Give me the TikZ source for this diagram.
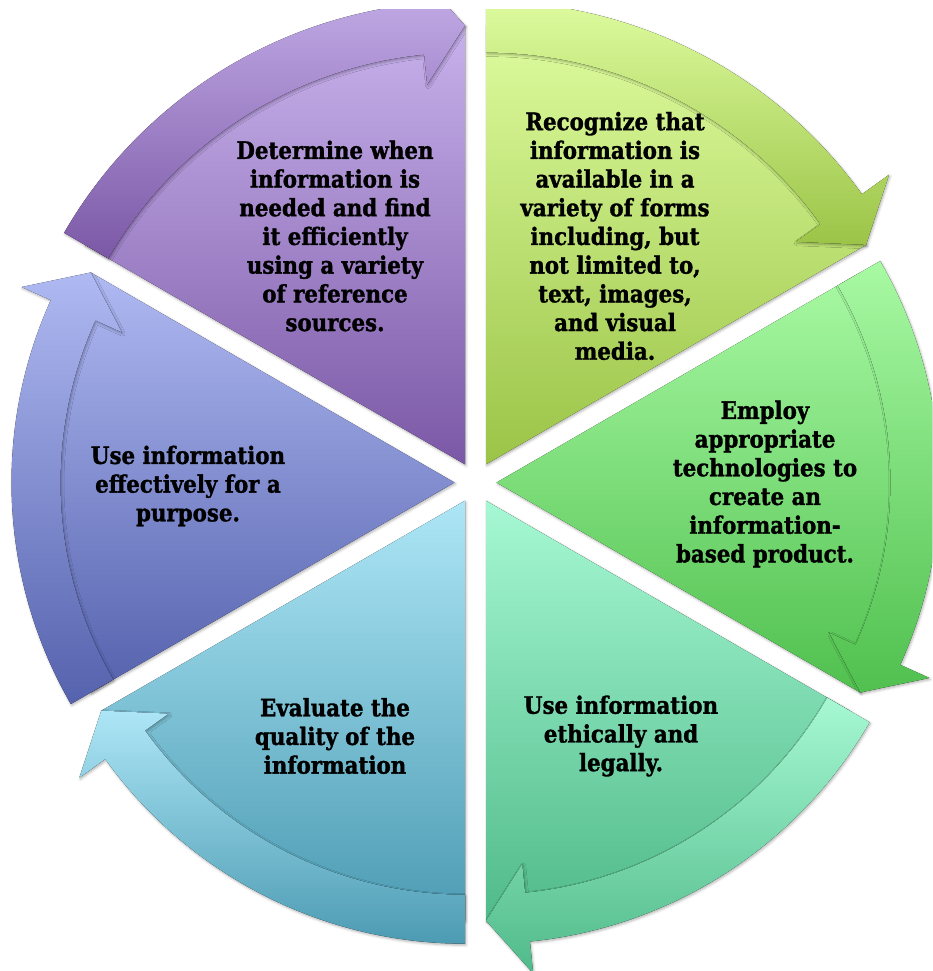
\documentclass[tikz,border=0pt]{standalone}
\usepackage{fontspec}
\newfontfamily\lblfont[FakeStretch=0.89, BoldFeatures={FakeBold=1.3}]{DejaVu Serif}
\usetikzlibrary{shadows.blur}

% segment colours: light (top) and dark (bottom) ends of each vertical gradient
\definecolor{purpleL}{HTML}{C7B1EB}\definecolor{purpleD}{HTML}{7B58A6}
\definecolor{limeL}{HTML}{DDFB9E}\definecolor{limeD}{HTML}{9BC447}
\definecolor{greenL}{HTML}{A8F9A3}\definecolor{greenD}{HTML}{50C04F}
\definecolor{mintL}{HTML}{A6F8D3}\definecolor{mintD}{HTML}{50BA8A}
\definecolor{skyL}{HTML}{ADE6F6}\definecolor{skyD}{HTML}{4C9BB3}
\definecolor{violetL}{HTML}{AFB9F2}\definecolor{violetD}{HTML}{5562AD}

\tikzset{
  seglabel/.style={align=center, text=black, inner sep=0pt,
    font=\lblfont\bfseries\fontsize{24}{28.7}\selectfont},
  segshadow/.style={blur shadow={shadow xshift=1pt, shadow yshift=-1.5pt,
    shadow blur radius=2.5pt, shadow opacity=30}},
}

% one segment: #1 bisector angle, #2 start angle, #3 end angle (clockwise),
% #4 size factor, #5 light colour, #6 dark colour
\newcommand{\cyclesegment}[6]{%
  \begin{scope}[shift={(#1:21)}, scale=#4]
    % pie-shaped body
    \fill[top color=#5, bottom color=#6, segshadow]
      (0,0) -- (#2:420) arc[start angle=#2, end angle=#3, radius=420] -- cycle;
    % curved arrow along the rim
    \fill[top color=#5, bottom color=#6, segshadow]
      (#2:443) arc[start angle=#2, end angle=#3+5.7, radius=443]
      -- (#3+5.7:475) -- (#3:420) -- (#3+5.7:365) -- (#3+5.7:394)
      arc[start angle=#3+5.7, end angle=#2, radius=394] -- cycle;
  \end{scope}
}

\begin{document}
\begin{tikzpicture}[x=1pt, y=1pt]
  \useasboundingbox (-475.5,-488.5) rectangle (456.5,482.5);
  \begin{scope}
    \clip (-475.5,-488.5) rectangle (456.5,472.5);
    \cyclesegment{120}{150}{90}{1.045}{purpleL}{purpleD}
    \cyclesegment{60}{90}{30}{1.045}{limeL}{limeD}
    \cyclesegment{0}{30}{-30}{1}{greenL}{greenD}
    \cyclesegment{-60}{-30}{-90}{1}{mintL}{mintD}
    \cyclesegment{-120}{-90}{-150}{1}{skyL}{skyD}
    \cyclesegment{180}{210}{150}{1}{violetL}{violetD}
  \end{scope}

  \node[seglabel] (determine) at (-140.5,246.5)
    {Determine when\\information is\\needed and find\\it efficiently\\using a variety\\of reference\\sources.};
  \node[seglabel] (recognize) at (139.5,246.5)
    {Recognize that\\information is\\available in a\\variety of forms\\including, but\\not limited to,\\text, images,\\and visual\\media.};
  \node[seglabel] (employ) at (289.5,-1.5)
    {Employ\\appropriate\\technologies to\\create an\\information-\\based product.};
  \node[seglabel] (ethics) at (145.5,-253.5)
    {Use information\\ethically and\\legally.};
  \node[seglabel] (evaluate) at (-140.5,-253.5)
    {Evaluate the\\quality of the\\information};
  \node[seglabel] (useinfo) at (-287.5,-3.5)
    {Use information\\effectively for a\\purpose.};
\end{tikzpicture}
\end{document}
